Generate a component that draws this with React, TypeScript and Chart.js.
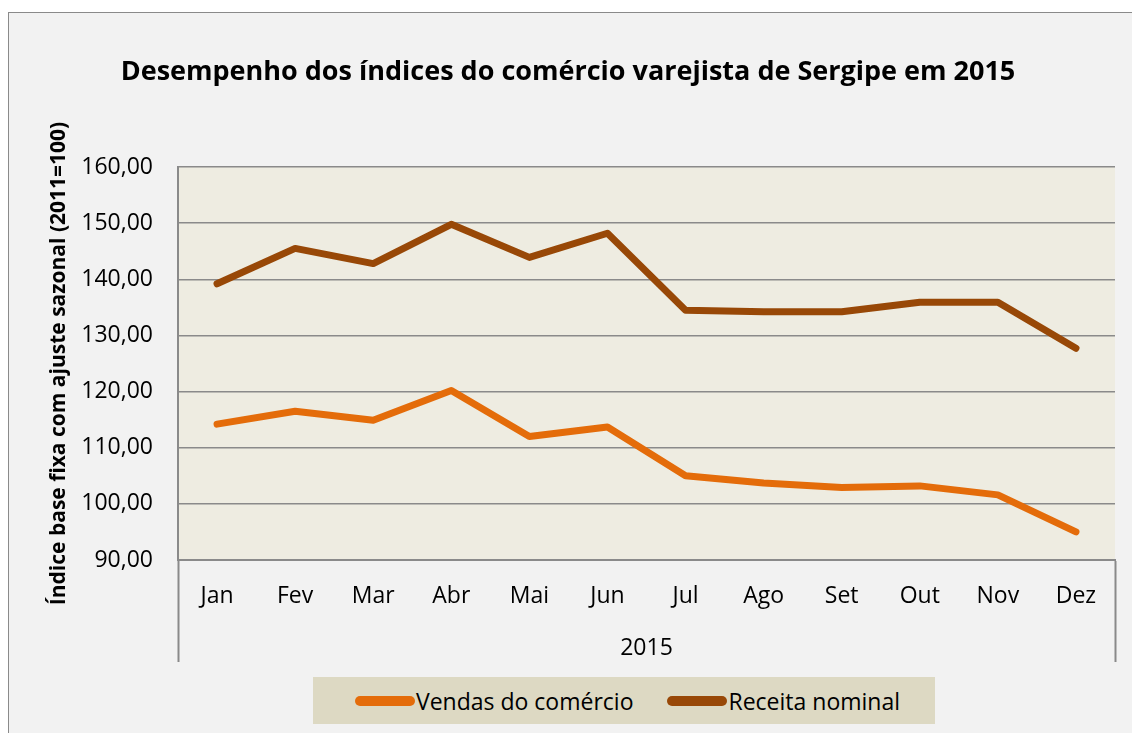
import React, { useEffect, useRef } from 'react';
import { Chart, registerables } from 'chart.js';

Chart.register(...registerables);

const chartTitle = 'Desempenho dos índices do comércio varejista de Sergipe em 2015';
const yAxisTitle = 'Índice base fixa com ajuste sazonal (2011=100)';
const yearLabel = '2015';
const months = ['Jan', 'Fev', 'Mar', 'Abr', 'Mai', 'Jun', 'Jul', 'Ago', 'Set', 'Out', 'Nov', 'Dez'];
const vendas = [114.2, 116.5, 114.9, 120.2, 112.0, 113.7, 105.0, 103.7, 102.9, 103.2, 101.6, 95.0];
const receita = [139.2, 145.5, 142.8, 149.8, 143.9, 148.2, 134.5, 134.2, 134.2, 135.9, 135.9, 127.7];
const seriesNames = ['Vendas do comércio', 'Receita nominal'];
const seriesColors = ['#e46c0a', '#984807'];
const yMin = 90;
const yMax = 160;
const yStep = 10;

const FONT = "'Open Sans', 'Noto Sans', sans-serif";
const GRID = '#8a8a8a';

const plotBg = {
  id: 'plotBg',
  beforeDraw(chart: any) {
    const { ctx, chartArea: a } = chart;
    ctx.save();
    ctx.fillStyle = '#eeece1';
    ctx.fillRect(a.left, a.top, a.right - a.left, a.bottom - a.top);
    ctx.restore();
  },
};

export default function App() {
  const ref = useRef<HTMLCanvasElement | null>(null);

  useEffect(() => {
    if (!ref.current) return;
    const chart = new Chart(ref.current, {
      type: 'line',
      data: {
        labels: months,
        datasets: [
          {
            label: seriesNames[0],
            data: vendas,
            borderColor: seriesColors[0],
            backgroundColor: seriesColors[0],
            borderWidth: 7,
            pointRadius: 0,
            tension: 0,
            borderCapStyle: 'round',
            borderJoinStyle: 'round',
          },
          {
            label: seriesNames[1],
            data: receita,
            borderColor: seriesColors[1],
            backgroundColor: seriesColors[1],
            borderWidth: 7,
            pointRadius: 0,
            tension: 0,
            borderCapStyle: 'round',
            borderJoinStyle: 'round',
          },
        ],
      },
      options: {
        responsive: false,
        animation: false,
        devicePixelRatio: 1,
        layout: { padding: { left: 21, right: 17, top: 0, bottom: 0 } },
        plugins: {
          legend: { display: false },
          tooltip: { enabled: false },
          title: {
            display: true,
            text: chartTitle,
            color: '#000',
            font: { family: FONT, size: 27, weight: 'bold' },
            padding: { top: 56, bottom: 78.6 },
          },
        },
        scales: {
          x: {
            type: 'category',
            offset: true,
            grid: {
              offset: true,
              drawOnChartArea: false,
              drawTicks: true,
              tickLength: 102,
              tickWidth: 2,
              tickColor: (c: any) => (c.index === 0 || c.index === undefined ? GRID : 'rgba(0,0,0,0)'),
            },
            border: { display: true, color: GRID, width: 2 },
            ticks: {
              padding: -79,
              color: '#000',
              autoSkip: false,
              maxRotation: 0,
              font: { family: FONT, size: 23 },
            },
            title: {
              display: true,
              text: yearLabel,
              color: '#000',
              font: { family: FONT, size: 23 },
              padding: { top: 0, bottom: 71 },
            },
            afterFit: (s: any) => {
              s.height = 173;
            },
          },
          y: {
            min: yMin,
            max: yMax,
            ticks: {
              stepSize: yStep,
              padding: 25,
              color: '#000',
              font: { family: FONT, size: 23 },
              callback: (v: any) => Number(v).toFixed(2).replace('.', ','),
            },
            grid: { color: GRID, lineWidth: 1.5, drawTicks: false },
            border: { display: true, color: GRID, width: 2 },
            title: {
              display: true,
              text: yAxisTitle,
              color: '#000',
              font: { family: FONT, size: 21, weight: 'bold' },
              padding: { top: 25, bottom: 0 },
            },
            afterFit: (s: any) => {
              s.width = 157;
            },
          },
        },
      },
      plugins: [plotBg],
    });
    return () => chart.destroy();
  }, []);

  return (
    <div style={{ position: 'fixed', left: 0, top: 0, width: 1132, height: 733, overflow: 'hidden', background: '#fff' }}>
      <div
        style={{
          position: 'absolute',
          left: 8,
          top: 12,
          width: 1140,
          height: 740,
          border: '1px solid #8a8a8a',
          background: '#f2f2f2',
        }}
      />
      <canvas ref={ref} width={1132} height={733} style={{ position: 'absolute', left: 0, top: 0, width: 1132, height: 733 }} />
      <div
        style={{
          position: 'absolute',
          left: 313,
          top: 677,
          width: 622,
          height: 47,
          background: '#ddd9c3',
          display: 'flex',
          alignItems: 'center',
          justifyContent: 'center',
          paddingLeft: 7,
          boxSizing: 'border-box',
          fontFamily: FONT,
          fontSize: 23,
          color: '#000',
        }}
      >
        {seriesNames.map((name, i) => (
          <div key={name} style={{ display: 'flex', alignItems: 'center', marginLeft: i > 0 ? 34 : 0 }}>
            <span style={{ display: 'inline-block', width: 60, height: 10, borderRadius: 5, background: seriesColors[i] }} />
            <span style={{ marginLeft: 1, lineHeight: '28px', whiteSpace: 'nowrap' }}>{name}</span>
          </div>
        ))}
      </div>
    </div>
  );
}
